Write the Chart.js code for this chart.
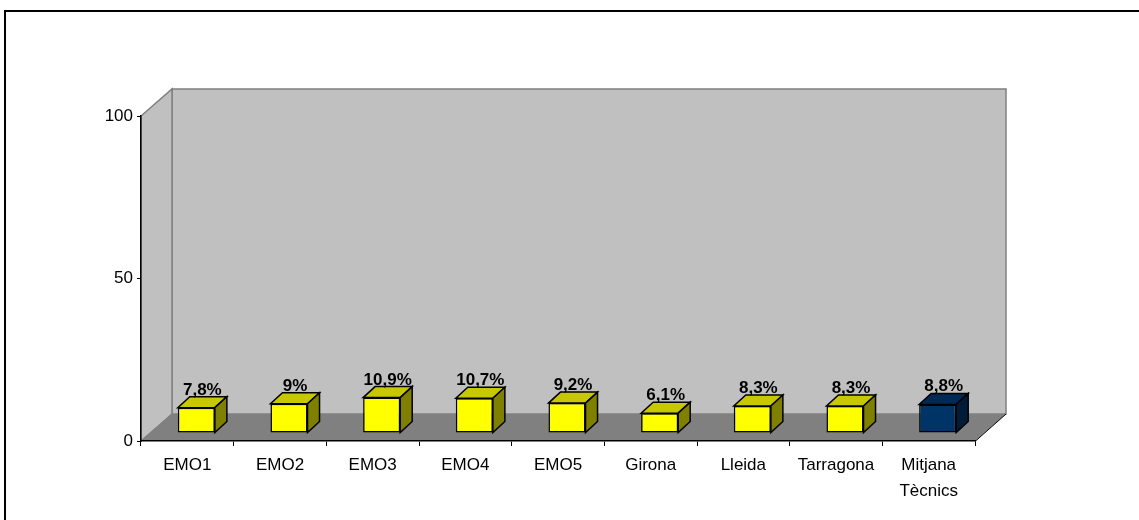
<!DOCTYPE html>
<html>
<head>
<meta charset="utf-8">
<script src="https://cdn.jsdelivr.net/npm/chart.js@4.4.1/dist/chart.umd.min.js"></script>
<style>
html,body{margin:0;padding:0;background:#fff;}
canvas{display:block;}
</style>
</head>
<body>
<canvas id="c" width="1139" height="520"></canvas>
<script>
const categories = ["EMO1","EMO2","EMO3","EMO4","EMO5","Girona","Lleida","Tarragona",["Mitjana","Tècnics"]];
const values = [7.8, 9, 10.9, 10.7, 9.2, 6.1, 8.3, 8.3, 8.8];
const valueLabels = ["7,8%","9%","10,9%","10,7%","9,2%","6,1%","8,3%","8,3%","8,8%"];
const yTicks = [0, 50, 100];

const frontColors = values.map((v,i)=> i === values.length-1 ? '#003366' : '#FFFF00');
const topColors = values.map((v,i)=> i === values.length-1 ? '#002A55' : '#C8C800');
const sideColors = values.map((v,i)=> i === values.length-1 ? '#001C38' : '#808000');

// 3D geometry
const WALL_DX = 31, WALL_DY = -27;
const BAR_OX = 9, BAR_OY = -8;
const BAR_DX = 12, BAR_DY = -11;

function poly(ctx, pts, fill, stroke, lw){
  ctx.beginPath();
  ctx.moveTo(pts[0][0], pts[0][1]);
  for (let i=1;i<pts.length;i++) ctx.lineTo(pts[i][0], pts[i][1]);
  ctx.closePath();
  if (fill){ ctx.fillStyle = fill; ctx.fill(); }
  if (stroke){ ctx.strokeStyle = stroke; ctx.lineWidth = lw||1; ctx.stroke(); }
}

const wallsPlugin = {
  id: 'walls',
  beforeDraw(chart){
    const ctx = chart.ctx;
    const a = chart.chartArea;
    const L = a.left, R = a.right, T = a.top, B = a.bottom;
    ctx.save();
    // outer frame (top and left edges visible)
    ctx.strokeStyle = '#000'; ctx.lineWidth = 2;
    ctx.beginPath(); ctx.moveTo(5, 600); ctx.lineTo(5, 11); ctx.lineTo(1200, 11); ctx.stroke();
    // back wall
    poly(ctx, [[L+WALL_DX,T+WALL_DY],[R+WALL_DX,T+WALL_DY],[R+WALL_DX,B+WALL_DY],[L+WALL_DX,B+WALL_DY]], '#C0C0C0', '#808080', 1.5);
    // left wall
    poly(ctx, [[L,T],[L+WALL_DX,T+WALL_DY],[L+WALL_DX,B+WALL_DY],[L,B]], '#C0C0C0', '#808080', 1.5);
    // floor
    poly(ctx, [[L,B],[L+WALL_DX,B+WALL_DY],[R+WALL_DX,B+WALL_DY],[R,B]], '#808080', null);
    ctx.strokeStyle = '#808080'; ctx.lineWidth = 1;
    ctx.beginPath(); ctx.moveTo(L,B); ctx.lineTo(L+WALL_DX,B+WALL_DY); ctx.stroke();
    ctx.strokeStyle = '#000'; ctx.lineWidth = 1;
    ctx.beginPath(); ctx.moveTo(R,B+0.5); ctx.lineTo(R+WALL_DX,B+WALL_DY); ctx.stroke();
    ctx.restore();
  },
  beforeDatasetsDraw(chart){
    chart.ctx.save();
    chart.ctx.translate(BAR_OX, BAR_OY);
  },
  afterDatasetsDraw(chart){
    const ctx = chart.ctx;
    const meta = chart.getDatasetMeta(0);
    meta.data.forEach((el, i) => {
      const p = el.getProps(['x','y','base','width'], true);
      const x1 = p.x - p.width/2, x2 = p.x + p.width/2;
      const yt = Math.min(p.y, p.base), yb = Math.max(p.y, p.base);
      ctx.lineJoin = 'miter';
      poly(ctx, [[x1,yt],[x2,yt],[x2+BAR_DX,yt+BAR_DY],[x1+BAR_DX,yt+BAR_DY]], topColors[i], '#000', 1.5);
      poly(ctx, [[x2,yt],[x2+BAR_DX,yt+BAR_DY],[x2+BAR_DX,yb+BAR_DY],[x2,yb]], sideColors[i], '#000', 1.5);
      ctx.fillStyle = '#000';
      ctx.font = 'bold 17px "Liberation Sans", Arial, sans-serif';
      ctx.textAlign = 'center';
      ctx.textBaseline = 'alphabetic';
      ctx.fillText(valueLabels[i], p.x + BAR_DX/2, yt + BAR_DY - 2);
    });
    ctx.restore();
  }
};

new Chart(document.getElementById('c'), {
  type: 'bar',
  data: {
    labels: categories,
    datasets: [{
      data: values,
      backgroundColor: frontColors,
      borderColor: '#000',
      borderWidth: 1.5,
      borderSkipped: false,
      barPercentage: 0.4,
      categoryPercentage: 1.0,
      clip: false
    }]
  },
  options: {
    responsive: false,
    animation: false,
    events: [],
    layout: { padding: { left: 0, top: 116, right: 164, bottom: 0 } },
    plugins: { legend: { display: false }, tooltip: { enabled: false }, title: { display: false } },
    scales: {
      x: {
        type: 'category',
        offset: true,
        grid: { display: true, drawOnChartArea: false, offset: true, color: '#000', tickLength: 5, lineWidth: 1 },
        border: { display: true, color: '#000', width: 1.5 },
        ticks: { color: '#000', padding: 7, maxRotation: 0, autoSkip: false,
                 font: { family: '"Liberation Sans", Arial, sans-serif', size: 17, lineHeight: 1.5 } },
        afterFit(scale){ scale.height = 79; }
      },
      y: {
        min: 0, max: 100,
        afterBuildTicks(scale){ scale.ticks = yTicks.map(v => ({ value: v })); },
        grid: { display: true, drawOnChartArea: false, color: '#000', tickLength: 4, lineWidth: 1 },
        border: { display: true, color: '#000', width: 1.5 },
        ticks: { color: '#000', padding: 4,
                 font: { family: '"Liberation Sans", Arial, sans-serif', size: 17 } },
        afterFit(scale){ scale.width = 141; }
      }
    }
  },
  plugins: [wallsPlugin]
});
</script>
</body>
</html>
